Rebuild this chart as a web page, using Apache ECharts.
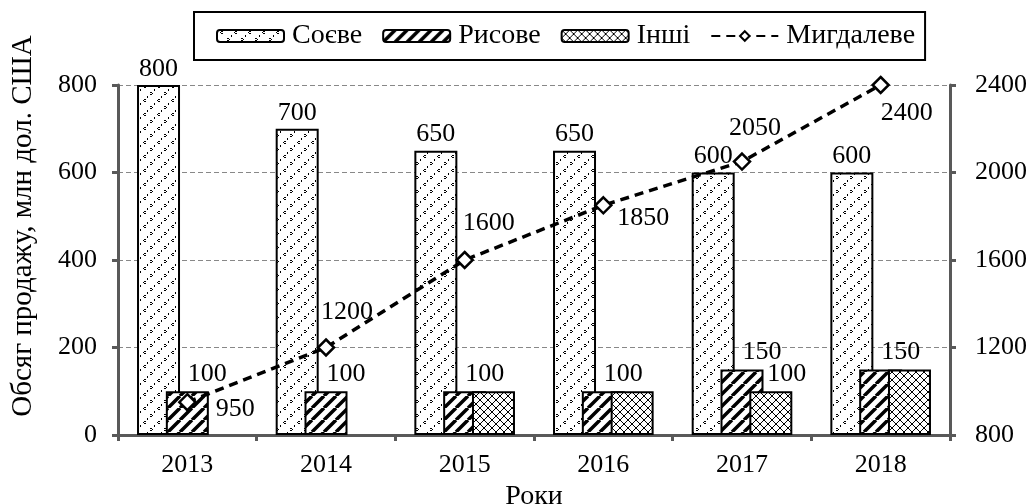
<!DOCTYPE html>
<html>
<head>
<meta charset="utf-8">
<script src="https://cdn.jsdelivr.net/npm/echarts@6/dist/echarts.min.js"></script>
<style>
html,body{margin:0;padding:0;background:#fff;}
#chart{width:1028px;height:504px;}
</style>
</head>
<body>
<div id="chart"></div>
<script>
const categories = ['2013', '2014', '2015', '2016', '2017', '2018'];
const soyValues = [800, 700, 650, 650, 600, 600];
const riceValues = [100, 100, 100, 100, 150, 150];
const otherValues = [0, 0, 100, 100, 100, 150];
const almondValues = [950, 1200, 1600, 1850, 2050, 2400];
const seriesNames = ['Соєве', 'Рисове', 'Інші', 'Мигдалеве'];

const FONT = '"Liberation Serif", "Times New Roman", serif';
const FS = 26;

function makeTile(w, h, draw) {
  const c = document.createElement('canvas');
  c.width = w; c.height = h;
  const ctx = c.getContext('2d');
  ctx.fillStyle = '#fff';
  ctx.fillRect(0, 0, w, h);
  draw(ctx);
  return c;
}
const dotTile = makeTile(14, 14, ctx => {
  ctx.fillStyle = '#000';
  ctx.fillRect(4, 1, 2, 1); ctx.fillRect(3, 2, 1, 1); ctx.fillRect(4, 3, 2, 1);
  ctx.fillRect(10, 8, 2, 1); ctx.fillRect(12, 9, 1, 1); ctx.fillRect(10, 10, 2, 1);
  ctx.fillRect(0, 5, 1, 2); ctx.fillRect(7, 12, 1, 2);
});
const hatchTile = makeTile(12, 12, ctx => {
  ctx.strokeStyle = '#000';
  ctx.lineWidth = 3.5;
  ctx.beginPath();
  for (let k = -12; k <= 24; k += 12) {
    ctx.moveTo(k, 12); ctx.lineTo(k + 12, 0);
  }
  ctx.stroke();
});
const crossTile = makeTile(8, 8, ctx => {
  ctx.strokeStyle = '#000';
  ctx.lineWidth = 1;
  ctx.beginPath();
  for (let k = -8; k <= 16; k += 8) {
    ctx.moveTo(k, 8); ctx.lineTo(k + 8, 0);
    ctx.moveTo(k, 0); ctx.lineTo(k + 8, 8);
  }
  ctx.stroke();
});

const labelFont = { fontFamily: FONT, fontSize: FS, color: '#000' };
const hiddenOtherLabels = [0, 1, 2, 3, 5];
const almondLabelOffsets = [[48, 7], [21, -35], [24, -37], [40, 13], [13, -33], [26, 28]];

const chart = echarts.init(document.getElementById('chart'));
chart.setOption({
  animation: false,
  backgroundColor: '#fff',
  textStyle: { fontFamily: FONT },
  legend: {
    left: 194, top: 12,
    padding: [10, 10, 10, 22],
    borderColor: '#000', borderWidth: 2,
    itemWidth: 67, itemHeight: 12, itemGap: 20,
    textStyle: { fontFamily: FONT, fontSize: 28, color: '#000', padding: [0, 0, 0, 3] },
    data: seriesNames
  },
  grid: { left: 118, right: 78, top: 85, bottom: 69, outerBoundsMode: 'none', containLabel: false },
  xAxis: {
    type: 'category',
    data: categories,
    name: 'Роки',
    nameLocation: 'middle',
    nameGap: 40,
    nameTextStyle: { fontFamily: FONT, fontSize: 28, color: '#000' },
    axisLine: { lineStyle: { color: '#595959', width: 3 } },
    axisTick: { show: true, length: 6, lineStyle: { color: '#595959', width: 3 } },
    axisLabel: { fontFamily: FONT, fontSize: FS, color: '#000', margin: 17 }
  },
  yAxis: [{
    type: 'value', min: 0, max: 800, interval: 200,
    name: 'Обсяг продажу, млн дол. США',
    nameLocation: 'middle',
    nameGap: 80,
    nameTextStyle: { fontFamily: FONT, fontSize: 29, color: '#000', padding: [0, 0, 0, 68] },
    axisLine: { show: true, lineStyle: { color: '#595959', width: 3 } },
    axisTick: { show: true, length: 6, lineStyle: { color: '#595959', width: 3 } },
    axisLabel: { fontFamily: FONT, fontSize: FS, color: '#000', margin: 21 },
    splitLine: { show: true, lineStyle: { color: '#888', width: 1, type: [5, 3] } }
  }, {
    type: 'value', min: 800, max: 2400, interval: 400,
    position: 'right',
    axisLine: { show: true, lineStyle: { color: '#595959', width: 3 } },
    axisTick: { show: true, length: 6, lineStyle: { color: '#595959', width: 3 } },
    axisLabel: { fontFamily: FONT, fontSize: FS, color: '#000', margin: 25, formatter: v => String(v) },
    splitLine: { show: false }
  }],
  series: [{
    name: seriesNames[0], type: 'bar', yAxisIndex: 0,
    data: soyValues,
    barWidth: 43, barGap: '-33%',
    itemStyle: { color: { image: dotTile, repeat: 'repeat' }, borderColor: '#000', borderWidth: 2 },
    label: Object.assign({ show: true, position: 'top', distance: 3 }, labelFont),
    z: 2
  }, {
    name: seriesNames[1], type: 'bar', yAxisIndex: 0,
    data: riceValues,
    barWidth: 43, barGap: '-33%',
    itemStyle: { color: { image: hatchTile, repeat: 'repeat' }, borderColor: '#000', borderWidth: 2 },
    label: Object.assign({ show: true, position: 'top', distance: 4, offset: [20, 0] }, labelFont),
    z: 3
  }, {
    name: seriesNames[2], type: 'bar', yAxisIndex: 0,
    data: otherValues.map((v, i) => ({
      value: v,
      label: { show: hiddenOtherLabels.indexOf(i) < 0 },
      itemStyle: v === 0 ? { borderWidth: 0 } : {}
    })),
    barWidth: 43, barGap: '-33%',
    itemStyle: { color: { image: crossTile, repeat: 'repeat' }, borderColor: '#000', borderWidth: 2 },
    label: Object.assign({ position: 'top', distance: 4, offset: [16, 0] }, labelFont),
    z: 4
  }, {
    name: seriesNames[3], type: 'line', yAxisIndex: 1,
    data: almondValues.map((v, i) => ({
      value: v,
      label: { offset: almondLabelOffsets[i] }
    })),
    symbol: 'diamond', symbolSize: 16,
    lineStyle: { color: '#000', width: 3.5, type: [9, 6] },
    itemStyle: { color: '#fff', borderColor: '#000', borderWidth: 2.5 },
    label: Object.assign({ show: true, position: 'inside' }, labelFont),
    z: 10
  }]
});
</script>
</body>
</html>
